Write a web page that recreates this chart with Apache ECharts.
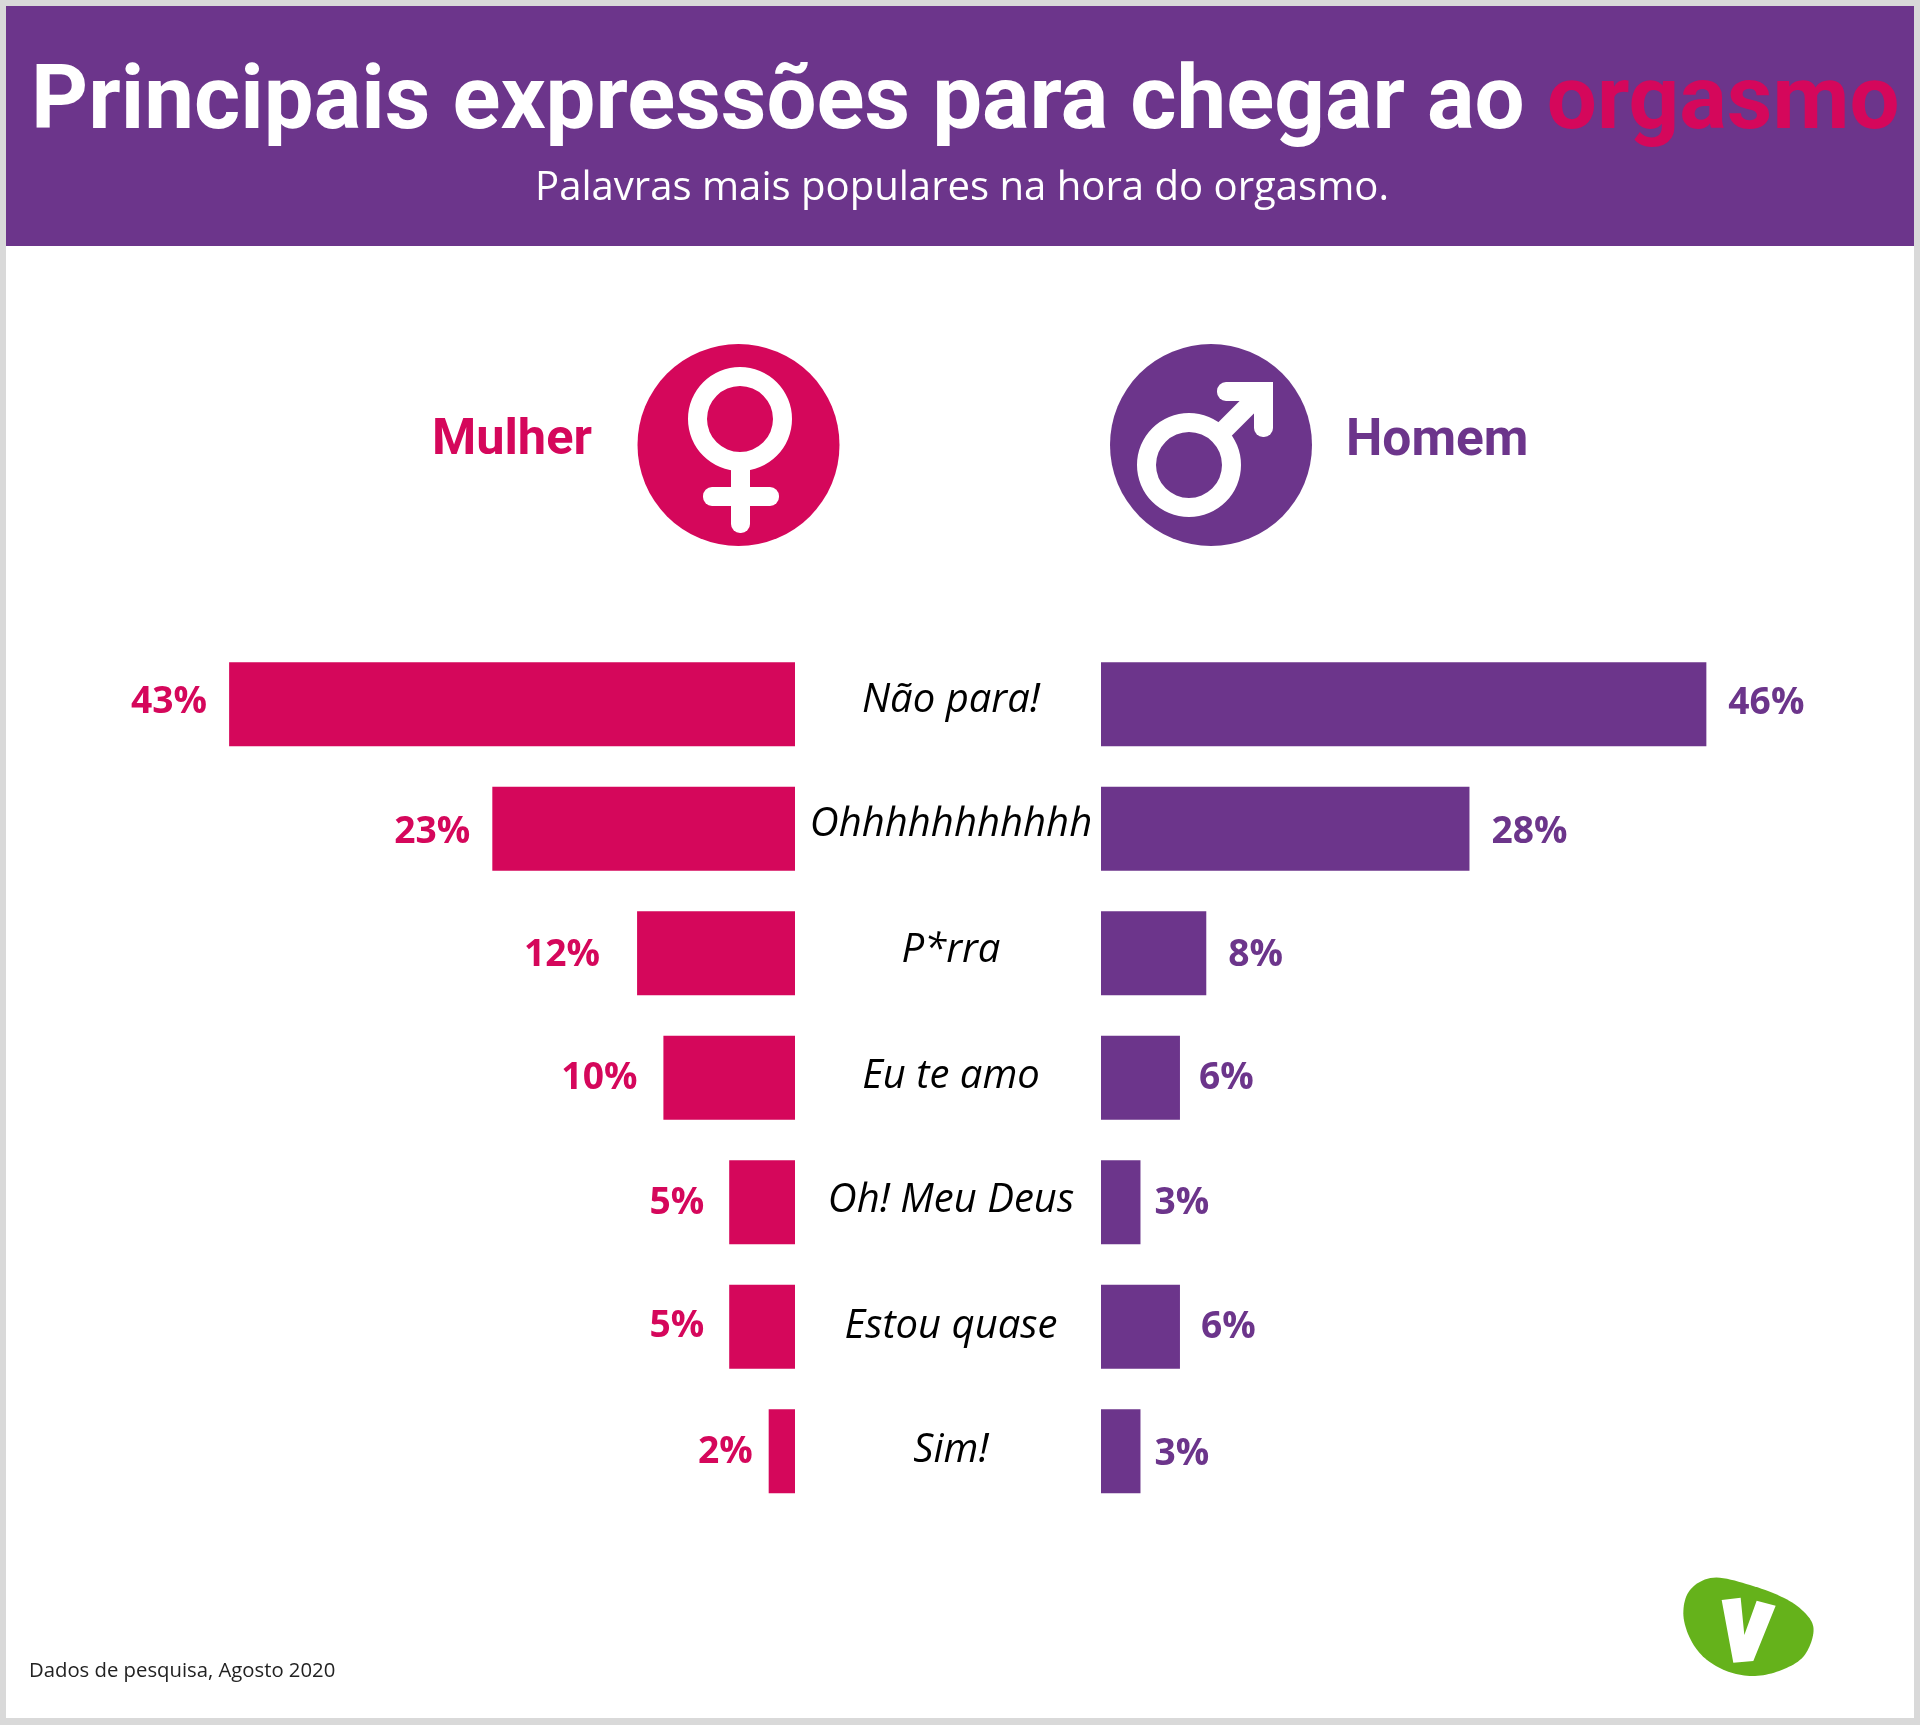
<!DOCTYPE html>
<html>
<head>
<meta charset="utf-8">
<style>html,body{margin:0;padding:0;background:#d9d9d9}#c{width:1920px;height:1725px}</style>
<script src="https://cdn.jsdelivr.net/npm/echarts@6/dist/echarts.min.js"></script>
</head>
<body>
<div id="c"></div>
<script>
const categories = ['Não para!','Ohhhhhhhhhhh','P*rra','Eu te amo','Oh! Meu Deus','Estou quase','Sim!'];
const mulher = [43,23,12,10,5,5,2];
const homem = [46,28,8,6,3,6,3];
const categoryLift = [8,8,5,3,3,1,1];
const mulherLabelGap = [22,22,37,26,25,25,16];
const homemLabelGap = [22,22,22,19,14,21,14];
const mulherLabelShift = [-2,4,2,1,1,0,1];
const homemLabelShift = [-1,4,2,1,1,1,3];

const PINK = '#d5075b', PURPLE = '#6c358b', GREEN = '#65b21b';
const chart = echarts.init(document.getElementById('c'));

function items(vals, gaps, shifts){
  return vals.map((v,i)=>({value:v,label:{distance:gaps[i],offset:[0,shifts[i]]}}));
}
// closed Catmull-Rom outline for the logo blob
function blob(p, steps){
  const out = [], n = p.length;
  for(let i=0;i<n;i++){
    const a=p[(i+n-1)%n], b=p[i], c=p[(i+1)%n], d=p[(i+2)%n];
    for(let s=0;s<steps;s++){
      const t=s/steps, t2=t*t, t3=t2*t;
      out.push([0,1].map(k=>0.5*(2*b[k]+(c[k]-a[k])*t+(2*a[k]-5*b[k]+4*c[k]-d[k])*t2+(3*b[k]-a[k]-3*c[k]+d[k])*t3)));
    }
  }
  return out;
}
const logoOutline = [[130,190],[150,120],[220,83],[330,105],[440,148],[505,200],[520,250],[490,320],[425,360],[345,378],[265,365],[195,325],[150,265]];

chart.setOption({
  animation:false,
  backgroundColor:'#d9d9d9',
  title:[
    {text:'{w|Principais expressões para chegar ao }{p|orgasmo}',left:26,top:56,
      textStyle:{rich:{w:{fontFamily:'Roboto',fontWeight:'bold',fontSize:88.8,color:'#fff'},p:{fontFamily:'Roboto',fontWeight:'bold',fontSize:88.8,color:PINK}}}},
    {text:'Palavras mais populares na hora do orgasmo.',left:957,textAlign:'center',top:164,
      textStyle:{fontFamily:'Open Sans',fontWeight:'normal',fontSize:40.1,color:'#fff'}},
    {text:'Mulher',left:427,top:411,textStyle:{fontFamily:'Roboto',fontWeight:'bold',fontSize:50.5,color:PINK}},
    {text:'Homem',left:1341,top:411,textStyle:{fontFamily:'Roboto',fontWeight:'bold',fontSize:51.5,color:PURPLE}},
    {text:'Dados de pesquisa, Agosto 2020',left:24,top:1656,textStyle:{fontFamily:'Open Sans',fontWeight:'normal',fontSize:20.3,color:'#222'}}
  ],
  grid:[
    {left:137,width:658,top:642,height:871.5},
    {left:1101,width:658,top:642,height:871.5}
  ],
  xAxis:[
    {gridIndex:0,type:'value',min:0,max:50,inverse:true,show:false},
    {gridIndex:1,type:'value',min:0,max:50,show:false}
  ],
  yAxis:[
    {gridIndex:0,type:'category',inverse:true,position:'right',
      data:categories.map((c,i)=>({value:c,textStyle:{align:'center',verticalAlign:'bottom',lineHeight:categoryLift[i]}})),
      axisLine:{show:false},axisTick:{show:false},
      axisLabel:{align:'center',margin:156,fontFamily:'Open Sans',fontStyle:'italic',fontSize:40,color:'#000'}},
    {gridIndex:1,type:'category',data:categories,inverse:true,show:false}
  ],
  series:[
    {name:'Mulher',type:'bar',xAxisIndex:0,yAxisIndex:0,barWidth:84,data:items(mulher,mulherLabelGap,mulherLabelShift),
      itemStyle:{color:PINK},
      label:{show:true,position:'left',formatter:'{c}%',fontFamily:'Open Sans',fontWeight:'bold',fontSize:37.2,color:PINK}},
    {name:'Homem',type:'bar',xAxisIndex:1,yAxisIndex:1,barWidth:84,data:items(homem,homemLabelGap,homemLabelShift),
      itemStyle:{color:PURPLE},
      label:{show:true,position:'right',formatter:'{c}%',fontFamily:'Open Sans',fontWeight:'bold',fontSize:37.2,color:PURPLE}}
  ],
  graphic:[
    {type:'rect',z:-20,silent:true,shape:{x:6,y:6,width:1908,height:1712},style:{fill:'#fff'}},
    {type:'rect',z:-19,silent:true,shape:{x:6,y:6,width:1908,height:240},style:{fill:PURPLE}},
    // female icon
    {type:'circle',z:1,shape:{cx:738.5,cy:445,r:101},style:{fill:PINK}},
    {type:'ring',z:2,shape:{cx:740,cy:419,r:52,r0:33},style:{fill:'#fff'}},
    {type:'rect',z:2,shape:{x:731,y:458,width:19,height:75,r:9},style:{fill:'#fff'}},
    {type:'rect',z:2,shape:{x:703,y:487,width:76,height:19,r:9},style:{fill:'#fff'}},
    // male icon
    {type:'circle',z:1,shape:{cx:1211,cy:445,r:101},style:{fill:PURPLE}},
    {type:'ring',z:2,shape:{cx:1189,cy:465,r:52,r0:33},style:{fill:'#fff'}},
    {type:'line',z:2,shape:{x1:1222,y1:432,x2:1264,y2:390},style:{stroke:'#fff',lineWidth:19}},
    {type:'rect',z:2,shape:{x:1217,y:382,width:56,height:19,r:[9,0,0,9]},style:{fill:'#fff'}},
    {type:'rect',z:2,shape:{x:1254,y:382,width:19,height:55,r:[0,0,9,9]},style:{fill:'#fff'}},
    // logo
    {type:'polygon',z:2,x:1640,y:1550,scaleX:1/3,scaleY:1/3,
      shape:{points:blob(logoOutline,10)},
      style:{fill:GREEN}},
    {type:'polygon',z:3,x:1640,y:1550,scaleX:1/3,scaleY:1/3,
      shape:{points:[[245,150],[302,143],[313,255],[350,152],[407,167],[340,333],[280,338]]},style:{fill:'#fff'}}
  ]
});
</script>
</body>
</html>
